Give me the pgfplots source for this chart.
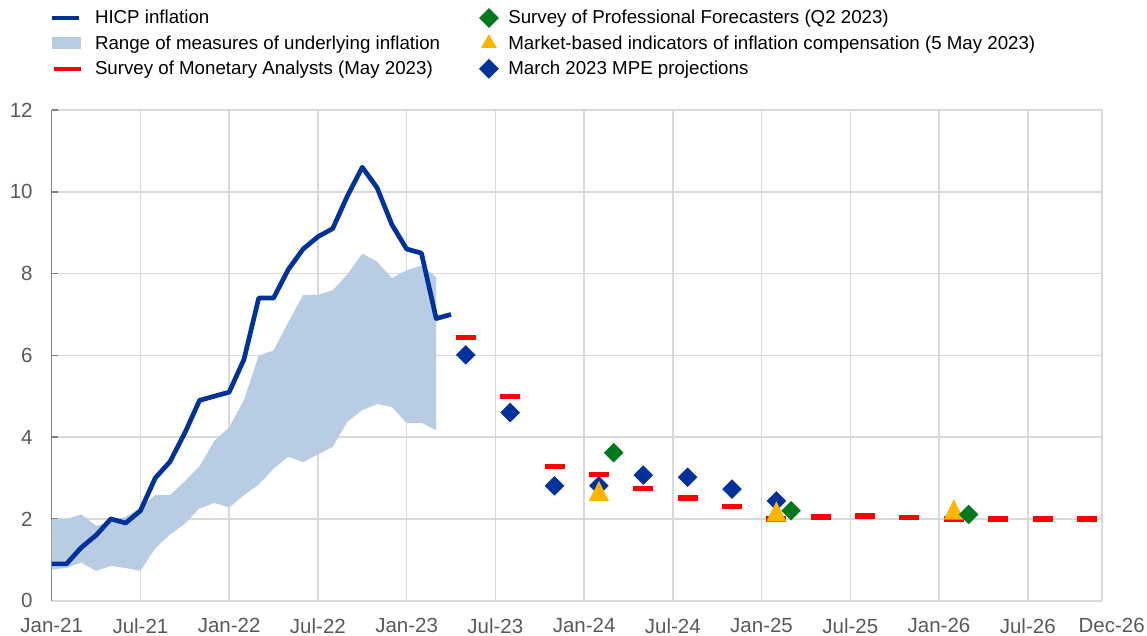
\documentclass[border=0pt]{standalone}
\usepackage{fontspec}
\setmainfont{Liberation Sans}
\usepackage{pgfplots}
\pgfplotsset{compat=1.18}
\definecolor{ecbblue}{HTML}{003299}
\definecolor{rangeblue}{HTML}{B8CCE4}
\definecolor{smared}{HTML}{FF0000}
\definecolor{spfgreen}{HTML}{00781E}
\definecolor{mktorange}{HTML}{FFB400}
\definecolor{gridgrey}{HTML}{D9D9D9}
\definecolor{axisgrey}{HTML}{808080}
\definecolor{tickgrey}{HTML}{595959}

% legend cells: fixed widths so the two columns line up like the original
\pgfplotsset{
  leglinecell/.style={legend image code/.code={
      \path[draw=none,fill=none] (0pt,-4.5pt) rectangle (21.65pt,4.5pt);
      \draw[overlay,##1] (0pt,0pt) -- (13.65pt,0pt);}},
  legsmacell/.style={legend image code/.code={
      \path[draw=none,fill=none] (0pt,-4.5pt) rectangle (21.65pt,4.5pt);
      \draw[overlay,##1] (1.2pt,0pt) -- (14.65pt,0pt);}},
  legareacell/.style={legend image code/.code={
      \path[draw=none,fill=none] (0pt,-4.5pt) rectangle (21.65pt,4.5pt);
      \fill[overlay,##1] (0pt,-3pt) rectangle (14.65pt,3pt);}},
  legmarkcell/.style={legend image code/.code={
      \path[draw=none,fill=none] (0pt,-4.5pt) rectangle (34.1pt,4.5pt);
      \draw[overlay,##1] plot coordinates {(24.4pt,0pt)};}},
}

\begin{document}
\begin{tikzpicture}
\begin{axis}[
  scale only axis, width=525pt, height=245.35pt,
  xmin=0, xmax=71, ymin=0, ymax=12,
  axis x line*=bottom, axis y line*=left,
  x axis line style={draw=gridgrey, line width=0.8pt},
  y axis line style={draw=axisgrey, line width=0.8pt},
  tick align=inside, major tick length=3pt,
  xtick style={draw=none},
  ytick style={draw=axisgrey, line width=0.8pt},
  grid=major, major grid style={draw=gridgrey, line width=0.8pt},
  xtick={0,6,...,66},
  xticklabels={Jan-21,Jul-21,Jan-22,Jul-22,Jan-23,Jul-23,Jan-24,Jul-24,Jan-25,Jul-25,Jan-26,Jul-26},
  extra x ticks={71}, extra x tick labels={Dec-26},
  extra x tick style={grid=major, xticklabel style={xshift=5pt}},
  ytick={0,2,...,12},
  /pgf/number format/assume math mode=true,
  tick label style={font=\fontsize{10.25}{12}\selectfont, text=tickgrey},
  xticklabel style={yshift=-5.4pt},
  yticklabel style={xshift=-6pt},
  legend columns=2, legend cell align=left,
  legend style={at={(0,1)}, anchor=north west, yshift=50.5pt,
    draw=none, fill=none, inner xsep=0pt, inner ysep=0pt, outer sep=0pt,
    row sep=3.7pt, column sep=0pt,
    font=\fontsize{9.35}{11}\selectfont,
    nodes={inner sep=0pt, outer sep=0pt, text height=7.5pt, text depth=1.5pt}},
]
\coordinate (bl) at (rel axis cs:0,0);
\coordinate (tr) at (rel axis cs:1,1);

% range of measures of underlying inflation (upper edge, then lower edge back)
\addplot[forget plot, fill=rangeblue, draw=none] coordinates {
  (0,2.0) (1,2.0) (2,2.11) (3,1.83) (4,1.92) (5,2.05) (6,2.27) (7,2.58) (8,2.58)
  (9,2.92) (10,3.29) (11,3.91) (12,4.24) (13,4.91) (14,5.99) (15,6.12) (16,6.81)
  (17,7.48) (18,7.48) (19,7.59) (20,7.98) (21,8.49) (22,8.29) (23,7.89) (24,8.08)
  (25,8.2) (26,7.91)
  (26,4.17) (25,4.35) (24,4.34) (23,4.74) (22,4.81) (21,4.66) (20,4.38) (19,3.76)
  (18,3.58) (17,3.39) (16,3.52) (15,3.23) (14,2.84) (13,2.58) (12,2.28) (11,2.39)
  (10,2.26) (9,1.88) (8,1.62) (7,1.28) (6,0.73) (5,0.8) (4,0.85) (3,0.73) (2,0.93)
  (1,0.8) (0,0.76)};

% HICP inflation
\addplot[forget plot, ecbblue, line width=2.35pt, line join=round] coordinates {
  (0,0.9) (1,0.9) (2,1.3) (3,1.6) (4,2.0) (5,1.9) (6,2.2) (7,3.0) (8,3.4) (9,4.1)
  (10,4.9) (11,5.0) (12,5.1) (13,5.9) (14,7.4) (15,7.4) (16,8.1) (17,8.6) (18,8.9)
  (19,9.1) (20,9.9) (21,10.6) (22,10.1) (23,9.2) (24,8.6) (25,8.5) (26,6.9) (27,7.0)};

% Survey of Monetary Analysts
\addplot[forget plot, only marks, mark=-, mark size=5pt,
  mark options={line width=2.7pt, draw=smared}] coordinates {
  (28,6.43) (31,4.99) (34,3.28) (37,3.09) (40,2.75) (43,2.51) (46,2.31) (49,2.0)
  (52,2.05) (55,2.07) (58,2.04) (61,2.0) (64,2.0) (67,2.0) (70,2.0)};

% March 2023 MPE projections
\addplot[forget plot, only marks, mark=square*, mark size=3.3pt,
  mark options={rotate=45, fill=ecbblue, draw=ecbblue, line width=0.3pt}] coordinates {
  (28,6.01) (31,4.6) (34,2.81) (37,2.81) (40,3.07) (43,3.02) (46,2.73) (49,2.44)};

% market-based indicators
\addplot[forget plot, only marks, mark=triangle*, mark size=5.6pt,
  mark options={yscale=1.155, fill=mktorange, draw=mktorange, line width=0.2pt}] coordinates {
  (37,2.6) (49,2.1) (61,2.15)};

% Survey of Professional Forecasters
\addplot[forget plot, only marks, mark=square*, mark size=3.3pt,
  mark options={rotate=45, fill=spfgreen, draw=spfgreen, line width=0.3pt}] coordinates {
  (38,3.62) (50,2.2) (62,2.11)};

\addlegendimage{leglinecell, ecbblue, line width=2.2pt}
\addlegendentry{HICP inflation}
\addlegendimage{legmarkcell, only marks, mark=square*, mark size=3.3pt,
  mark options={rotate=45, fill=spfgreen, draw=spfgreen}}
\addlegendentry{Survey of Professional Forecasters (Q2 2023)}
\addlegendimage{legareacell, fill=rangeblue, draw=none}
\addlegendentry{Range of measures of underlying inflation}
\addlegendimage{legmarkcell, only marks, mark=triangle*, mark size=4.2pt,
  mark options={fill=mktorange, draw=mktorange}}
\addlegendentry{Market-based indicators of inflation compensation (5 May 2023)}
\addlegendimage{legsmacell, smared, line width=2pt}
\addlegendentry{Survey of Monetary Analysts (May 2023)}
\addlegendimage{legmarkcell, only marks, mark=square*, mark size=3.3pt,
  mark options={rotate=45, fill=ecbblue, draw=ecbblue}}
\addlegendentry{March 2023 MPE projections}
\end{axis}
\pgfresetboundingbox
\useasboundingbox ([shift={(-25.85pt,-17.15pt)}]bl) rectangle ([shift={(22.65pt,55pt)}]tr);
\end{tikzpicture}
\end{document}
